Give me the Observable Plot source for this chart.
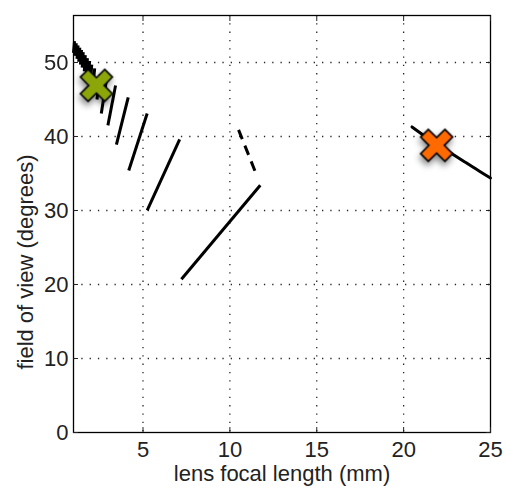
<!DOCTYPE html>
<html>
<head>
<meta charset="utf-8">
<script src="https://cdn.jsdelivr.net/npm/d3@7"></script>
<script src="https://cdn.jsdelivr.net/npm/@observablehq/plot@0.6"></script>
<style>
  html, body { margin: 0; padding: 0; background: #fff; }
  #chart svg { display: block; }
  #chart g[aria-label="dot"] { filter: drop-shadow(-1px 4px 3px rgba(0,0,0,0.45)); }
</style>
</head>
<body>
<div id="chart"></div>
<script>
// Solid segments (focal length mm, field of view degrees)
const segX1 = [1.00, 1.10, 1.20, 1.30, 1.40, 1.50, 1.62, 1.74, 1.86, 1.98, 2.10, 2.35, 2.60, 2.98, 3.47, 4.18, 5.24, 7.21];
const segY1 = [51.3, 50.9, 50.5, 50.1, 49.7, 49.3, 48.8, 48.3, 47.8, 47.2, 46.5, 45.0, 43.1, 41.5, 38.9, 35.4, 30.0, 20.7];
const segX2 = [1.06, 1.16, 1.26, 1.36, 1.46, 1.56, 1.68, 1.80, 1.93, 2.05, 2.22, 2.55, 2.88, 3.42, 4.15, 5.24, 7.11, 11.75];
const segY2 = [52.9, 52.6, 52.3, 52.0, 51.7, 51.4, 51.0, 50.6, 50.2, 49.7, 49.2, 48.4, 47.4, 46.9, 45.3, 43.1, 39.6, 33.4];

// Dashed segment
const dashX = [10.5, 11.52];
const dashY = [40.9, 34.9];

// Curve on the right
const curveX = [20.48, 21.5, 22.5, 23.5, 24.3, 25.0];
const curveY = [41.3, 39.6, 38.1, 36.6, 35.4, 34.4];

// Markers
const markX = [2.32, 21.9];
const markY = [46.9, 38.8];
const markColor = ["#8ca508", "#ff6a00"];

// Ticks
const xTicks = [5, 10, 15, 20, 25];
const yTicks = [0, 10, 20, 30, 40, 50];
const xGrid = [5, 10, 15, 20];
const yGrid = [10, 20, 30, 40, 50];

const xLabel = "lens focal length (mm)";
const yLabel = "field of view (degrees)";

const segs = segX1.map((d, i) => ({x1: d, y1: segY1[i], x2: segX2[i], y2: segY2[i]}));
const curve = curveX.map((d, i) => ({x: d, y: curveY[i]}));
const marks = markX.map((d, i) => ({x: d, y: markY[i], c: markColor[i]}));

const crossSymbol = {
  draw(ctx, size) {
    const r = Math.sqrt(size / Math.PI);
    const a = 0.34 * r, b = r * Math.SQRT2 - a;
    const pts = [[-a,-b],[a,-b],[a,-a],[b,-a],[b,a],[a,a],[a,b],[-a,b],[-a,a],[-b,a],[-b,-a],[-a,-a]];
    pts.forEach(([x, y], i) => {
      const u = (x - y) / Math.SQRT2, v = (x + y) / Math.SQRT2;
      if (i) ctx.lineTo(u, v); else ctx.moveTo(u, v);
    });
    ctx.closePath();
  }
};

const font = "'Liberation Sans', Arial, Helvetica, sans-serif";
const textColor = "#222";

const chart = Plot.plot({
  width: 508,
  height: 489,
  marginLeft: 73,
  marginRight: 18,
  marginTop: 15,
  marginBottom: 57,
  style: {fontFamily: font, fontSize: "22px", color: textColor, background: "#fff"},
  x: {domain: [1, 25]},
  y: {domain: [0, 56.35]},
  marks: [
    Plot.gridX(xGrid, {stroke: "#000", strokeOpacity: 0.85, strokeWidth: 1.3, strokeDasharray: "1.3,7"}),
    Plot.gridY(yGrid, {stroke: "#000", strokeOpacity: 0.85, strokeWidth: 1.3, strokeDasharray: "1.3,7"}),
    Plot.link(segs, {x1: "x1", y1: "y1", x2: "x2", y2: "y2", stroke: "#000", strokeWidth: 3}),
    Plot.link([0], {x1: () => dashX[0], y1: () => dashY[0], x2: () => dashX[1], y2: () => dashY[1], stroke: "#000", strokeWidth: 3, strokeDasharray: "10,7"}),
    Plot.line(curve, {x: "x", y: "y", stroke: "#000", strokeWidth: 3, curve: "natural"}),
    Plot.dot(marks, {x: "x", y: "y", fill: "c", stroke: "#000", strokeWidth: 1.6, r: 16, symbol: crossSymbol}),
    Plot.frame({stroke: "#000", strokeWidth: 1.3}),
    Plot.axisX({anchor: "bottom", ticks: xTicks, tickSize: -5, tickPadding: 14, label: null, fontSize: 22, fill: textColor}),
    Plot.axisX({anchor: "top", ticks: xTicks, tickSize: -5, tickFormat: () => "", label: null}),
    Plot.axisY({anchor: "left", ticks: yTicks, tickSize: -5, tickPadding: 10, label: null, fontSize: 22, fill: textColor}),
    Plot.axisY({anchor: "right", ticks: yTicks, tickSize: -5, tickFormat: () => "", label: null}),
    Plot.text([xLabel], {text: d => d, frameAnchor: "bottom", textAnchor: "middle", lineAnchor: "middle", dy: 41, fontSize: 22, fill: textColor}),
    Plot.text([yLabel], {text: d => d, frameAnchor: "left", textAnchor: "middle", lineAnchor: "middle", rotate: -90, dx: -48, dy: 38, fontSize: 22, fill: textColor})
  ]
});
document.getElementById("chart").appendChild(chart);
</script>
</body>
</html>
